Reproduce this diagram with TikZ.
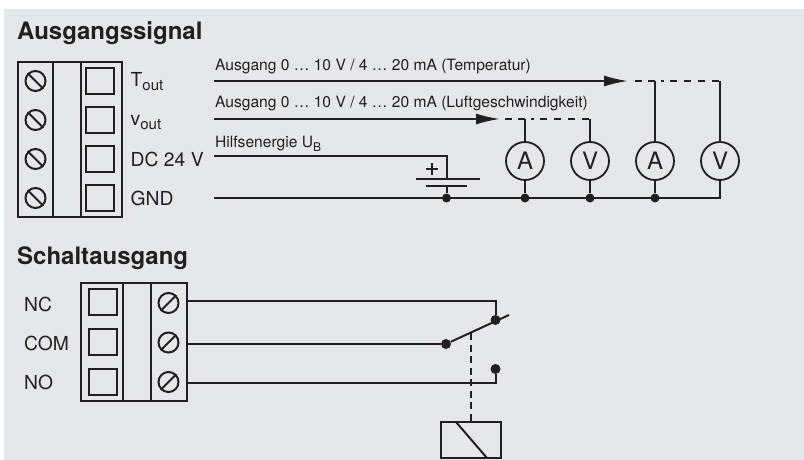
\documentclass[tikz,border=0pt]{standalone}
\usepackage{fontspec}
\setmainfont{TeX Gyre Heros}
\usetikzlibrary{arrows.meta}
\definecolor{panel}{HTML}{E6E7E9}
\definecolor{ink}{HTML}{231F20}
\newcommand{\lowidx}[1]{\raisebox{-3.6pt}{\fontsize{15}{15}\selectfont #1}}
\tikzset{
    heading/.style={anchor=base west, inner sep=0pt, text=ink, font=\fontsize{24}{28}\selectfont\bfseries},
    pinlabel/.style={anchor=base west, inner sep=0pt, text=ink, font=\fontsize{19.3}{22}\selectfont},
    wirelabel/.style={anchor=base west, inner sep=0pt, text=ink, font=\fontsize{15.6}{18}\selectfont},
    screw/.style={draw=ink, circle, line width=2pt, minimum size=20pt, inner sep=0pt},
    pinbox/.style={draw=ink, line width=2pt, minimum width=28pt, minimum height=26pt, inner sep=0pt},
    meter/.style={draw=ink, circle, line width=1.8pt, minimum size=38pt, inner sep=0pt, text=ink, font=\fontsize{24}{26}\selectfont},
    junction/.style={fill=ink, circle, minimum size=9pt, inner sep=0pt},
    contact/.style={fill=ink, circle, minimum size=10pt, inner sep=0pt},
    wire/.style={draw=ink, line width=2pt},
    dashwire/.style={draw=ink, line width=2pt, dash pattern=on 7pt off 6pt on 7pt off 6pt on 3pt off 6pt on 7pt off 7pt on 7pt off 7pt on 7pt off 7pt on 7pt off 30pt},
}
\begin{document}
\begin{tikzpicture}[x=1pt,y=-1pt]
    \useasboundingbox (0,0) rectangle (804,460);
    \fill[panel] (4,9) rectangle (804,460);

    % Ausgangssignal
    \node[heading] (outtitle) at (17,40) {Ausgangssignal};
    \draw[wire] (17.5,62) rectangle (122,217);
    \draw[wire] (53,62) -- (53,217);
    \draw[wire] (80.5,62) -- (80.5,217);
    \foreach \n/\y in {1/81,2/120,3/159,4/198} {
        \node[screw] (outscrew\n) at (35.5,\y) {};
        \draw[wire] (outscrew\n.135) -- (outscrew\n.-45);
        \node[pinbox] (outpin\n) at (100,\y) {};
    }
    \node[pinlabel] (tout) at (130.5,87) {T\lowidx{out}};
    \node[pinlabel] (vout) at (130.5,125.5) {v\lowidx{out}};
    \node[pinlabel] (dc) at (130.5,166) {DC 24 V};
    \node[pinlabel] (gnd) at (130.5,205) {GND};

    \node[wirelabel] (tlabel) at (215,70.7) {Ausgang 0 … 10 V / 4 … 20 mA (Temperatur)};
    \node[wirelabel] (vlabel) at (215,108) {Ausgang 0 … 10 V / 4 … 20 mA (Luftgeschwindigkeit)};
    \node[wirelabel] (ublabel) at (215,147.7) {Hilfsenergie U\lowidx{\fontsize{12}{12}\selectfont B}};

    \node[meter] (ampv) at (525,161) {A};
    \node[meter] (voltv) at (590,161) {V};
    \node[meter] (ampt) at (655,161) {A};
    \node[meter] (voltt) at (720,161) {V};

    \coordinate (tstart) at (214,81);
    \coordinate (ttip) at (628,81);
    \coordinate (tdash) at (635,81);
    \coordinate (tamp) at (655,81);
    \coordinate (tvolt) at (721,81);
    \coordinate (vstart) at (214,119);
    \coordinate (vtip) at (500,119);
    \coordinate (vdash) at (505,119);
    \coordinate (vamp) at (525,119);
    \coordinate (vvolt) at (591,119);
    \draw[wire, -{Latex[length=24pt,width=11pt]}] (tstart) -- (ttip);
    \draw[wire, -{Latex[length=24pt,width=11pt]}] (vstart) -- (vtip);
    \draw[dashwire] (tdash) -- (tvolt);
    \draw[dashwire] (vdash) -- (vvolt);
    \draw[wire] (tamp) -- (ampt);
    \draw[wire] (720,81) -- (voltt);
    \draw[wire] (vamp) -- (ampv);
    \draw[wire] (590,119) -- (voltv);

    \node[junction] (gndbat) at (446.5,198) {};
    \node[junction] (gndampv) at (525,198) {};
    \node[junction] (gndvoltv) at (590,198) {};
    \node[junction] (gndampt) at (655,198) {};
    \coordinate (gndstart) at (214,198);
    \coordinate (gndend) at (720,198);
    \draw[wire] (gndstart) -- (gndend) -- (voltt);
    \draw[wire] (ampv) -- (gndampv);
    \draw[wire] (voltv) -- (gndvoltv);
    \draw[wire] (ampt) -- (gndampt);

    \coordinate (ubstart) at (214,156);
    \coordinate (ubcorner) at (446.5,156);
    \coordinate (plus) at (446.5,179);
    \coordinate (minus) at (446.5,186);
    \draw[wire] (ubstart) -- (ubcorner) -- (plus);
    \draw[wire] (minus) -- (gndbat);
    \draw[wire] (416,179) -- (480,179);
    \draw[wire] (426,186) -- (467,186);
    \draw[wire] (426,169) -- (438,169);
    \draw[wire] (432,163) -- (432,175);

    % Schaltausgang
    \node[heading] (swtitle) at (17,264) {Schaltausgang};
    \draw[wire] (81,283) rectangle (186.5,400.5);
    \draw[wire] (123,283) -- (123,400.5);
    \draw[wire] (151,283) -- (151,400.5);
    \foreach \n/\y in {1/303,2/342.5,3/382} {
        \node[screw] (swscrew\n) at (168.5,\y) {};
        \draw[wire] (swscrew\n.-135) -- (swscrew\n.45);
    }
    \node[pinbox] (swpin1) at (103,302) {};
    \node[pinbox] (swpin2) at (103,342) {};
    \node[pinbox] (swpin3) at (103,381.5) {};
    \node[pinlabel] (nc) at (24,311) {NC};
    \node[pinlabel] (com) at (24,350) {COM};
    \node[pinlabel] (no) at (24,389) {NO};

    \node[contact] (topcontact) at (495.5,320) {};
    \node[contact] (comcontact) at (446,344) {};
    \node[contact] (nocontact) at (495.5,369) {};
    \coordinate (ncstart) at (186.5,300.7);
    \coordinate (nccorner) at (495.5,300.7);
    \coordinate (comstart) at (186.5,344);
    \coordinate (nostart) at (186.5,383);
    \coordinate (nocorner) at (495.5,383);
    \coordinate (leverend) at (509,315);
    \coordinate (leverlink) at (470.5,333);
    \draw[wire] (ncstart) -- (nccorner) -- (topcontact);
    \draw[wire] (comstart) -- (comcontact);
    \draw[wire] (nostart) -- (nocorner) -- (nocontact);
    \draw[wire] (comcontact) -- (leverend);

    \node[draw=ink, line width=2pt, minimum width=60pt, minimum height=36pt, inner sep=0pt] (coil) at (470.5,440) {};
    \draw[wire] (456,422) -- (487,458);
    \draw[draw=ink, line width=2pt, dash pattern=on 7pt off 4.5pt] (leverlink) -- (coil.north);
\end{tikzpicture}
\end{document}
